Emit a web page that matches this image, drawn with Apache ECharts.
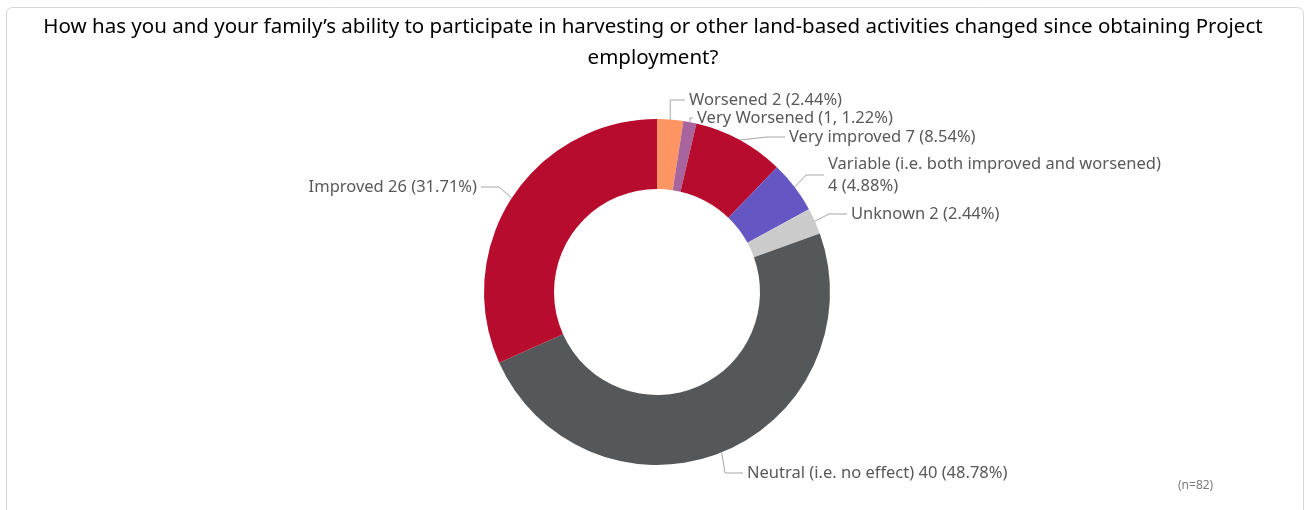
<!DOCTYPE html>
<html>
<head>
<meta charset="utf-8">
<script src="https://cdn.jsdelivr.net/npm/echarts@6/dist/echarts.min.js"></script>
<style>
  html, body { margin: 0; padding: 0; background: #fff; }
  #chart { width: 1306px; height: 510px; }
</style>
</head>
<body>
<div id="chart"></div>
<script>
// Responses, clockwise from 12 o'clock
const categories = [
  'Worsened',
  'Very Worsened',
  'Very improved',
  'Variable (i.e. both improved and worsened)',
  'Unknown',
  'Neutral (i.e. no effect)',
  'Improved'
];
const counts = [2, 1, 7, 4, 2, 40, 26];
const colors = ['#FF9563', '#A8649C', '#B80C2F', '#6457C4', '#CBCBCB', '#55585B', '#B80C2F'];
const sampleNote = '(n=82)';
const titleText = 'How has you and your family\u2019s ability to participate in harvesting or other land-based activities changed since obtaining Project\nemployment?';

// Where each callout sits (left/right anchor incl. padding, vertical middle)
const labelSpots = [
  { x: 685, y: 100, align: 'left' },
  { x: 693, y: 118, align: 'left' },
  { x: 785, y: 137, align: 'left' },
  { x: 824, y: 175, align: 'left' },
  { x: 847, y: 214, align: 'left' },
  { x: 743, y: 473, align: 'left' },
  { x: 481, y: 187, align: 'right' }
];

const total = counts.reduce((a, b) => a + b, 0);
const chart = echarts.init(document.getElementById('chart'), null, { renderer: 'canvas' });
const labelFont = '"Noto Sans", sans-serif';

function labelFor(p) {
  const pct = (p.value / total * 100).toFixed(2) + '%';
  if (p.name === 'Very Worsened') return p.name + ' (' + p.value + ', ' + pct + ')';
  if (p.name.indexOf('Variable') === 0) return p.name + '\n' + p.value + ' (' + pct + ')';
  return p.name + ' ' + p.value + ' (' + pct + ')';
}

chart.setOption({
  animation: false,
  backgroundColor: '#fff',
  title: {
    text: titleText,
    left: 'center',
    top: 7,
    textStyle: {
      fontFamily: labelFont,
      fontSize: 20.5,
      fontWeight: 'normal',
      color: '#000',
      lineHeight: 31
    }
  },
  graphic: [
    {
      type: 'rect',
      shape: { x: 6.5, y: 7.5, width: 1297, height: 520, r: 6 },
      style: { fill: 'none', stroke: '#d6d6d6', lineWidth: 1 },
      silent: true
    },
    {
      type: 'text',
      left: 1178,
      top: 480,
      style: { text: sampleNote, fill: '#7a7a7a', font: '12px ' + labelFont }
    }
  ],
  series: [{
    type: 'pie',
    center: [657, 292],
    radius: [103, 173],
    startAngle: 90,
    clockwise: true,
    data: categories.map((c, i) => ({ name: c, value: counts[i], itemStyle: { color: colors[i] } })),
    label: {
      formatter: labelFor,
      color: '#595959',
      fontFamily: labelFont,
      fontSize: 16.5,
      lineHeight: 22,
      padding: [0, 4, 0, 4]
    },
    labelLine: {
      length: 12,
      length2: 18,
      lineStyle: { color: '#a6a6a6', width: 1 }
    },
    labelLayout: function (params) {
      const s = labelSpots[params.dataIndex];
      return { x: s.x, y: s.y, align: s.align, verticalAlign: 'middle' };
    }
  }]
});
</script>
</body>
</html>
